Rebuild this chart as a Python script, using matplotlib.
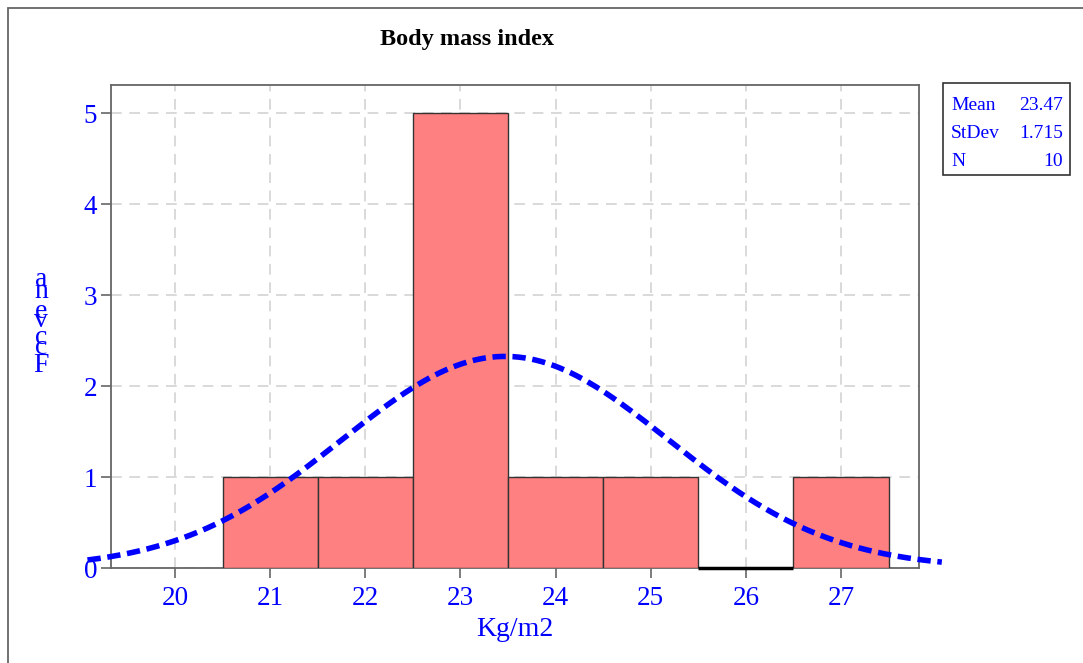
import numpy as np
import matplotlib.pyplot as plt
from matplotlib.patches import Rectangle

# ---------------- Daten ----------------
bin_left = [20.5, 21.5, 22.5, 23.5, 24.5, 25.5, 26.5]
counts = [1, 1, 5, 1, 1, 0, 1]
bin_width = 1.0
mean_bmi = 23.47
sd_bmi = 1.715
n_obs = 10
x_ticks = [20, 21, 22, 23, 24, 25, 26, 27]
y_ticks = [0, 1, 2, 3, 4, 5]
ylabel_chars = ['a', 'n', 'e', 'v', 'c', 'c', 'F']   # von oben nach unten, so wie im Bild

plt.rcParams['font.family'] = ['Liberation Serif', 'DejaVu Serif']
blau = '#0000FF'
grau = '#666666'

fig = plt.figure(figsize=(10.83, 6.63), dpi=100)
W, H = 1083.0, 663.0
ax = fig.add_axes([111 / W, 1 - 568 / H, (919 - 111) / W, (568 - 85) / H])

# Histogramm
ax.bar(bin_left, counts, width=bin_width, align='edge', color='#FF8080',
       edgecolor='#333333', linewidth=1.0, zorder=3)
# leere Klassen als schwarze Linie
for bl, c in zip(bin_left, counts):
    if c == 0:
        ax.hlines(0, bl, bl + bin_width, color='black', lw=2.5, zorder=4, clip_on=False)

# Normalkurve (aus Mittelwert, StdAbw und N)
xs = np.linspace(19.08, 28.06, 300)
ys = n_obs * bin_width / (sd_bmi * np.sqrt(2 * np.pi)) * np.exp(-0.5 * ((xs - mean_bmi) / sd_bmi) ** 2)
ax.plot(xs, ys, color=blau, lw=4.0, dashes=(2.4, 1.2), clip_on=False, zorder=5)

ax.set_xlim(19.327, 27.82)
ax.set_ylim(0, 5.31)
ax.set_xticks(x_ticks)
ax.set_yticks(y_ticks)
ax.tick_params(axis='both', colors=grau, labelcolor=blau, labelsize=19.5,
               direction='out', length=7, width=1.2)
ax.tick_params(axis='x', pad=6)
ax.tick_params(axis='y', pad=3)
ax.grid(True, color='#d0d0d0', linestyle=(0, (7, 5)), linewidth=1.1, zorder=0)
for s in ax.spines.values():
    s.set_color(grau)
    s.set_linewidth(1.3)

ax.set_xlabel('Kg/m2', color=blau, fontsize=20, labelpad=4)

# Titel
fig.text(467 / W, 1 - 40 / H, 'Body mass index', ha='center', va='center',
         fontsize=17.5, fontweight='bold', color='black')

# Y-Beschriftung, Buchstaben uebereinander gestapelt
ypos = [279, 292, 311, 320, 337, 348, 365]
for ch, yp in zip(ylabel_chars, ypos):
    fig.text(41 / W, 1 - yp / H, ch, ha='center', va='center', fontsize=20, color=blau)

# Statistik-Kasten
fig.patches.append(Rectangle((943 / W, 1 - 175 / H), 127 / W, 92 / H, transform=fig.transFigure,
                             facecolor='white', edgecolor='#333333', linewidth=1.2))
stats_names = ['Mean', 'StDev', 'N']
stats_vals = ['23.47', '1.715', '10']
for i, (nm, vl) in enumerate(zip(stats_names, stats_vals)):
    yy = 1 - (105 + i * 28.5) / H
    fig.text(951 / W, yy, nm, ha='left', va='center', fontsize=14, color=blau)
    fig.text(1063 / W, yy, vl, ha='right', va='center', fontsize=14, color=blau)

# Rahmen aussen
fig.patches.append(Rectangle((8 / W, -0.1), 1.2, 1.1 - 8 / H, transform=fig.transFigure,
                             facecolor='none', edgecolor=grau, linewidth=1.3))

fig.savefig('out.png', dpi=100)
